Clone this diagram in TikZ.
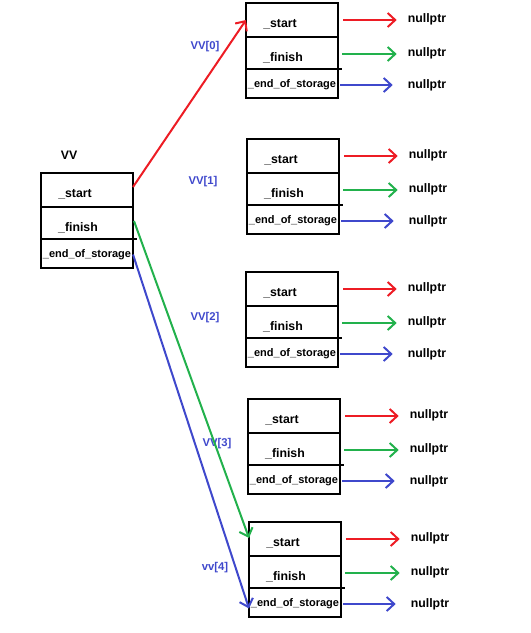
\documentclass[tikz,border=0pt]{standalone}
\usepackage{fontspec}
\setmainfont{Liberation Sans}
\usetikzlibrary{arrows.meta}
\definecolor{pred}{HTML}{ED1C24}
\definecolor{pgreen}{HTML}{22B14C}
\definecolor{pblue}{HTML}{3F48CC}
\tikzset{
  cell/.style={draw, line width=2.6pt, minimum width=92pt, anchor=north west, inner sep=0pt, outer sep=0pt},
  txt/.style={font=\bfseries\fontsize{12.3}{14}\selectfont, inner sep=0pt},
  txtsm/.style={font=\bfseries\fontsize{11}{13}\selectfont, inner sep=0pt},
  lbl/.style={font=\bfseries\fontsize{11.3}{13}\selectfont, text=pblue, inner sep=0pt},
  conn/.style={line width=2pt, -{Straight Barb[length=7.5pt,width=14pt,line width=2pt]}},
  rarrow/.style={conn, shorten >=11pt},
}
\newcommand\vecbox[3]{%
  \node[cell, minimum height=34pt] (#1s) at (#2,#3) {};
  \node[cell, minimum height=32pt] (#1f) at (#2,#3+34) {};
  \node[cell, minimum height=29pt] (#1e) at (#2,#3+66) {};
  \draw[line width=1.6pt] (#1f.south east) -- ++(4pt,0);
  \node[txt] (#1st) at (#2+34,#3+21) {\_start};
  \node[txt] (#1ft) at (#2+37,#3+55) {\_finish};
  \node[txtsm] (#1et) at (#2+46,#3+82) {\_end\_of\_storage};
}
\newcommand\nullarrows[3]{%
  \vecbox{#1}{#2}{#3}
  \node[txt] (#1n1) at (#2+92+89,#3+16) {nullptr};
  \node[txt] (#1n2) at (#2+92+89,#3+50) {nullptr};
  \node[txt] (#1n3) at (#2+92+89,#3+82) {nullptr};
  \draw[rarrow, pred] ([xshift=5pt]#1s.east) -- (#1n1.west |- #1s.east);
  \draw[rarrow, pgreen] ([xshift=4pt,yshift=-1pt]#1f.east) -- ([yshift=-1pt]#1n2.west |- #1f.east);
  \draw[rarrow, pblue] ([xshift=2pt,yshift=-1.5pt]#1e.east) -- ([xshift=-4pt,yshift=-1.5pt]#1n3.west |- #1e.east);
}
\begin{document}
\begin{tikzpicture}[x=1pt,y=-1pt]
\useasboundingbox (0,0) rectangle (531,633);
\vecbox{m}{41}{173}
\node[txt] (vvname) at (69,155) {VV};
\nullarrows{b0}{246}{3}
\nullarrows{b1}{247}{139}
\nullarrows{b2}{246}{272}
\nullarrows{b3}{248}{399}
\nullarrows{b4}{249}{522}
\node[lbl] (l0) at (205,47) {VV[0]};
\node[lbl] (l1) at (203,182) {VV[1]};
\node[lbl] (l2) at (205,318) {VV[2]};
\node[lbl] (l3) at (217,444) {VV[3]};
\node[lbl] (l4) at (215,568) {vv[4]};
\draw[conn, pred] ([yshift=3pt]ms.east) -- (b0s.west);
\draw[conn, pgreen] ([xshift=1pt,yshift=2pt]mf.east) -- ([yshift=1pt]b4s.west);
\draw[conn, pblue] ([yshift=-1pt]me.east) -- ([yshift=-6pt]b4e.west);
\end{tikzpicture}
\end{document}
